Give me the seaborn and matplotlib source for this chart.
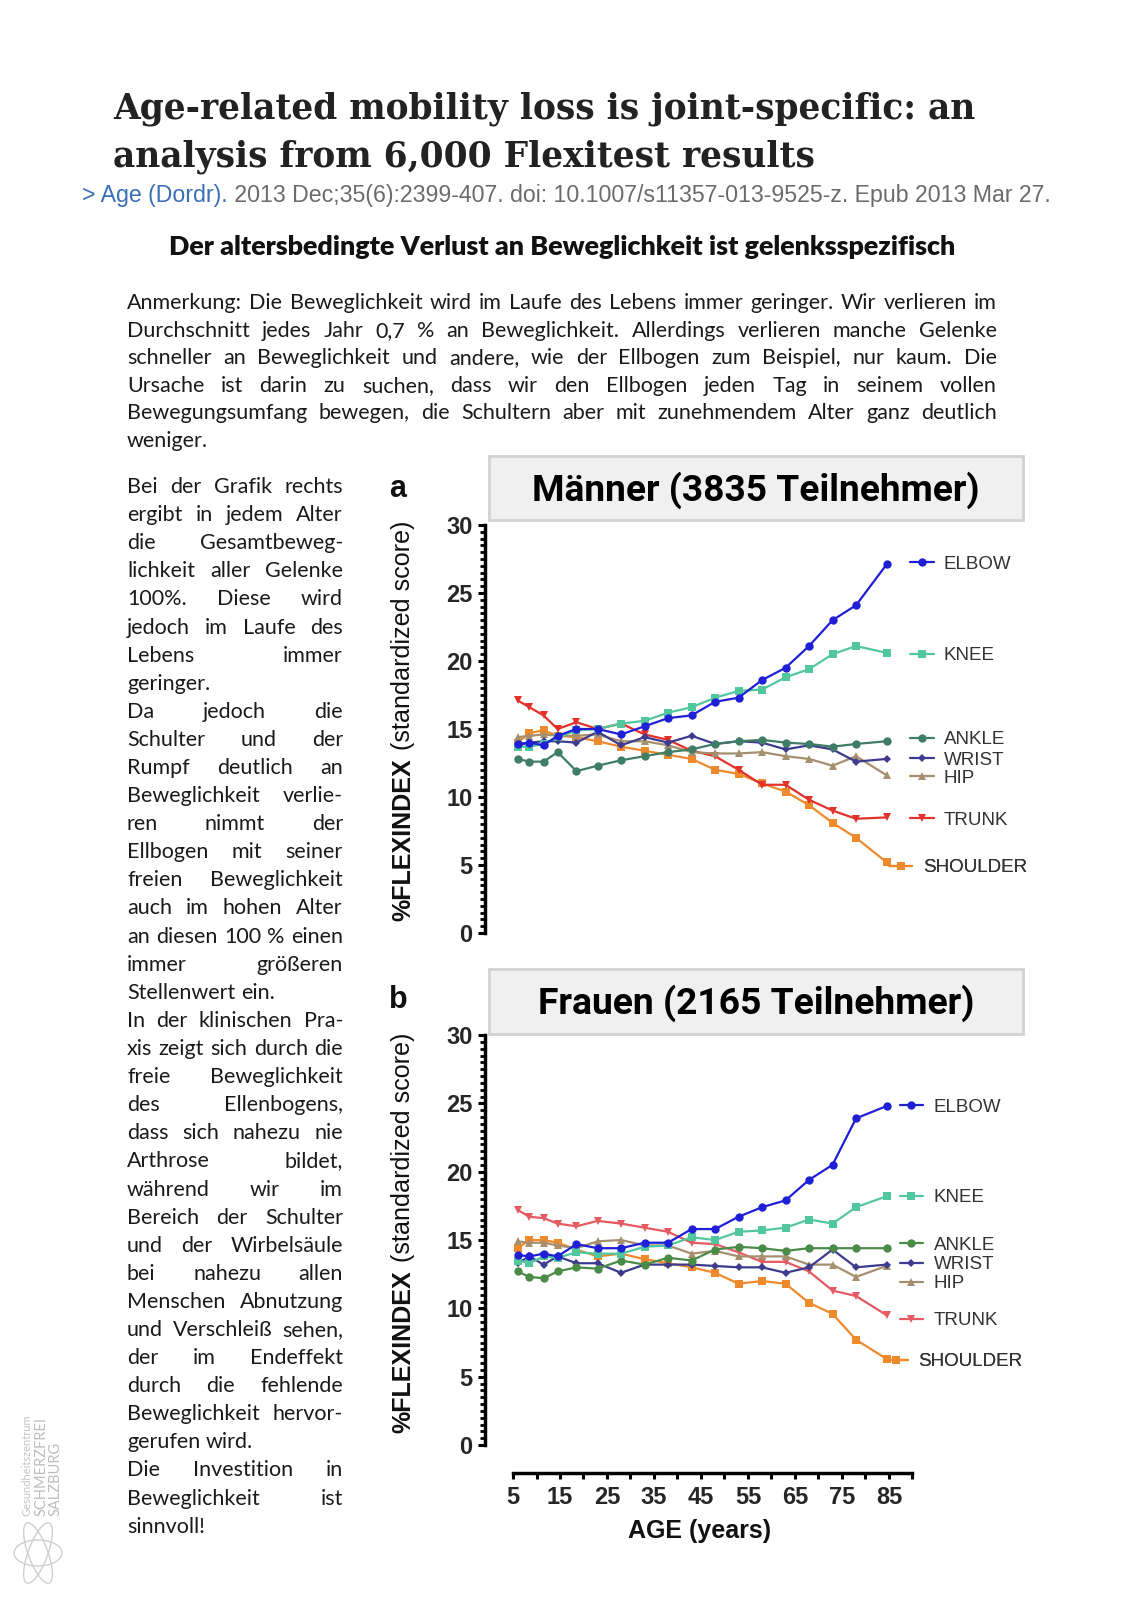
"""
Flexitest page: age-related mobility loss per joint, men (a) and women (b).
"""

import matplotlib
matplotlib.use('Agg')
import matplotlib.pyplot as plt
import numpy as np
import pandas as pd
import seaborn as sns
from matplotlib.lines import Line2D
from matplotlib.patches import Ellipse, Rectangle
from matplotlib.ticker import FixedLocator, MultipleLocator

W, H = 1124, 1597

# ---- data ---------------------------------------------------------------
AGES = [6, 8.5, 11.5, 14.5, 18.5, 23, 28, 33, 38, 43, 48, 53, 58, 63, 68, 73, 78, 84.5]
JOINTS = ['ELBOW', 'KNEE', 'ANKLE', 'WRIST', 'HIP', 'TRUNK', 'SHOULDER']

# panel a - men
ELBOW_M = [13.9, 14.0, 13.8, 14.5, 15.0, 15.0, 14.6, 15.2, 15.8, 16.0, 17.0, 17.3, 18.6, 19.5, 21.1, 23.0, 24.1, 27.1]
KNEE_M = [13.7, 13.7, 13.9, 14.4, 14.9, 15.0, 15.4, 15.6, 16.2, 16.6, 17.3, 17.8, 17.9, 18.8, 19.4, 20.5, 21.1, 20.6]
ANKLE_M = [12.8, 12.6, 12.6, 13.3, 11.9, 12.3, 12.7, 13.0, 13.3, 13.5, 13.9, 14.1, 14.2, 14.0, 13.9, 13.7, 13.9, 14.1]
WRIST_M = [13.8, 14.0, 14.1, 14.1, 14.0, 14.8, 13.8, 14.4, 14.0, 14.5, 13.9, 14.1, 14.0, 13.5, 13.8, 13.5, 12.6, 12.8]
HIP_M = [14.4, 14.5, 14.6, 14.5, 14.5, 14.6, 14.1, 14.1, 13.8, 13.3, 13.2, 13.2, 13.3, 13.0, 12.8, 12.3, 13.0, 11.6]
TRUNK_M = [17.1, 16.6, 16.0, 15.0, 15.5, 15.0, 15.4, 14.6, 14.2, 13.4, 13.0, 12.0, 10.9, 10.9, 9.8, 9.0, 8.4, 8.5]
SHOULDER_M = [14.0, 14.7, 14.9, 14.5, 14.4, 14.1, 13.7, 13.4, 13.1, 12.8, 12.0, 11.7, 11.0, 10.4, 9.4, 8.1, 7.0, 5.2]

# panel b - women
ELBOW_W = [13.9, 13.8, 14.0, 13.8, 14.7, 14.4, 14.4, 14.8, 14.8, 15.8, 15.8, 16.7, 17.4, 17.9, 19.4, 20.5, 23.9, 24.8]
KNEE_W = [13.5, 13.3, 13.8, 13.7, 14.1, 14.0, 14.0, 14.5, 14.6, 15.2, 15.0, 15.6, 15.7, 15.9, 16.5, 16.2, 17.4, 18.2]
ANKLE_W = [12.7, 12.3, 12.2, 12.7, 13.0, 12.9, 13.5, 13.2, 13.7, 13.5, 14.3, 14.5, 14.4, 14.2, 14.4, 14.4, 14.4, 14.4]
WRIST_W = [13.3, 13.8, 13.2, 13.8, 13.3, 13.3, 12.6, 13.2, 13.2, 13.2, 13.1, 13.0, 13.0, 12.6, 13.0, 14.3, 13.0, 13.2]
HIP_W = [14.9, 14.8, 14.8, 14.6, 14.4, 14.9, 15.0, 14.6, 14.6, 14.0, 14.2, 13.8, 13.8, 13.8, 13.2, 13.2, 12.3, 13.1]
TRUNK_W = [17.2, 16.7, 16.6, 16.2, 16.0, 16.4, 16.2, 15.9, 15.6, 14.8, 14.7, 14.1, 13.4, 13.4, 12.7, 11.3, 10.9, 9.5]
SHOULDER_W = [14.4, 15.0, 15.0, 14.8, 14.3, 13.8, 14.0, 13.6, 13.3, 13.0, 12.6, 11.8, 12.0, 11.8, 10.4, 9.6, 7.7, 6.3]

# where the joint names sit (y, in score units)
LABEL_Y_M = [27.1, 20.4, 14.2, 12.7, 11.4, 8.3, 4.8]
LABEL_Y_W = [24.7, 18.1, 14.6, 13.2, 11.8, 9.1, 6.1]

X_TICKS = [5, 15, 25, 35, 45, 55, 65, 75, 85]
X_MINOR = [10, 20, 30, 40, 50, 60, 70, 80, 90]
Y_TICKS = [0, 5, 10, 15, 20, 25, 30]

TITLE_LINES = ['Age-related mobility loss is joint-specific: an',
               'analysis from 6,000 Flexitest results']
CITE_BLUE = '> Age (Dordr).'
CITE_GREY = ' 2013 Dec;35(6):2399-407. doi: 10.1007/s11357-013-9525-z. Epub 2013 Mar 27.'
SUBTITLE = 'Der altersbedingte Verlust an Beweglichkeit ist gelenksspezifisch'
YLAB_BOLD = '%FLEXINDEX'
YLAB_REG = '(standardized score)'

NOTE_PARAS = [[
    'Anmerkung: Die Beweglichkeit wird im Laufe des Lebens immer geringer. Wir verlieren im',
    'Durchschnitt jedes Jahr 0,7 % an Beweglichkeit. Allerdings verlieren manche Gelenke',
    'schneller an Beweglichkeit und andere, wie der Ellbogen zum Beispiel, nur kaum. Die',
    'Ursache ist darin zu suchen, dass wir den Ellbogen jeden Tag in seinem vollen',
    'Bewegungsumfang bewegen, die Schultern aber mit zunehmendem Alter ganz deutlich',
    'weniger.',
]]

SIDE_PARAS = [
    ['Bei der Grafik rechts', 'ergibt in jedem Alter', 'die Gesamtbeweg-',
     'lichkeit aller Gelenke', '100%. Diese wird', 'jedoch im Laufe des',
     'Lebens immer', 'geringer.'],
    ['Da jedoch die', 'Schulter und der', 'Rumpf deutlich an',
     'Beweglichkeit verlie-', 'ren nimmt der', 'Ellbogen mit seiner',
     'freien Beweglichkeit', 'auch im hohen Alter', 'an diesen 100 % einen',
     'immer größeren', 'Stellenwert ein.'],
    ['In der klinischen Pra-', 'xis zeigt sich durch die', 'freie Beweglichkeit',
     'des Ellenbogens,', 'dass sich nahezu nie', 'Arthrose bildet,',
     'während wir im', 'Bereich der Schulter', 'und der Wirbelsäule',
     'bei nahezu allen', 'Menschen Abnutzung', 'und Verschleiß sehen,',
     'der im Endeffekt', 'durch die fehlende', 'Beweglichkeit hervor-',
     'gerufen wird.'],
    ['Die Investition in', 'Beweglichkeit ist', 'sinnvoll!'],
]

# ---- styles --------------------------------------------------------------
COLORS_M = {'ELBOW': '#1f1fd6', 'KNEE': '#52c79e', 'ANKLE': '#3f7d66', 'WRIST': '#3d3b8e',
            'HIP': '#a58f6f', 'TRUNK': '#e3322b', 'SHOULDER': '#ef8a2c'}
COLORS_W = dict(COLORS_M, ANKLE='#4b8b48', TRUNK='#e65a62')
MARKERS = {'ELBOW': 'o', 'KNEE': 's', 'ANKLE': 'o', 'WRIST': 'D', 'HIP': '^',
           'TRUNK': 'v', 'SHOULDER': 's'}
MSIZE = {'ELBOW': 6, 'KNEE': 5.5, 'ANKLE': 6, 'WRIST': 4.5, 'HIP': 5.5, 'TRUNK': 5.5, 'SHOULDER': 5.5}

BODY_FONT = ['Lato', 'DejaVu Sans']
AXIS_FONT = ['Liberation Sans', 'DejaVu Sans']
TEXT_COLOR = '#1a1a1a'

sns.set_theme(style='white')
plt.rcParams['font.family'] = AXIS_FONT

fig = plt.figure(figsize=(W / 100, H / 100), dpi=100)
fig.patch.set_facecolor('white')
R = fig.canvas.get_renderer()


def px(x, y):
    return x / W, 1 - y / H


def text_width(s, **kw):
    t = fig.text(0, 0, s, **kw)
    w = t.get_window_extent(renderer=R).width
    t.remove()
    return w


def fit_size(s, target, **kw):
    return 20 * target / text_width(s, fontsize=20, **kw)


def draw_block(paras, x0, x1, y0, step, size):
    space = text_width('a a', fontsize=size, family=BODY_FONT) - text_width('aa', fontsize=size, family=BODY_FONT)
    i = 0
    for para in paras:
        for j, line in enumerate(para):
            words = line.split(' ')
            widths = [text_width(w, fontsize=size, family=BODY_FONT) for w in words]
            last = j == len(para) - 1
            if last or len(words) == 1:
                gap = space
            else:
                gap = max((x1 - x0 - sum(widths)) / (len(words) - 1), 0.4 * space)
            x = x0
            for w, wd in zip(words, widths):
                fig.text(*px(x, y0 + i * step), w, fontsize=size, family=BODY_FONT,
                         color=TEXT_COLOR, ha='left', va='baseline')
                x += wd + gap
            i += 1


# ---- header --------------------------------------------------------------
title_size = fit_size(TITLE_LINES[0], 866, family='DejaVu Serif', fontweight='bold')
for line, base in zip(TITLE_LINES, [118, 167]):
    fig.text(*px(113, base), line, fontsize=title_size, family='DejaVu Serif',
             fontweight='bold', color='#222222', ha='left', va='baseline')

cite_size = fit_size(CITE_BLUE + CITE_GREY, 971, family=AXIS_FONT)
fig.text(*px(82, 202), CITE_BLUE, fontsize=cite_size, family=AXIS_FONT, color='#3a6fb5',
         ha='left', va='baseline')
fig.text(*px(82 + text_width(CITE_BLUE, fontsize=cite_size, family=AXIS_FONT), 202), CITE_GREY,
         fontsize=cite_size, family=AXIS_FONT, color='#6b6b6b', ha='left', va='baseline')

sub_size = fit_size(SUBTITLE, 791, family=BODY_FONT, fontweight='heavy')
fig.text(*px(562, 255), SUBTITLE, fontsize=sub_size, family=BODY_FONT, fontweight='heavy',
         color='#111111', ha='center', va='baseline')

body_size = fit_size(NOTE_PARAS[0][0], 850, family=BODY_FONT)
draw_block(NOTE_PARAS, 127, 997, 309, 27.6, body_size)
draw_block(SIDE_PARAS, 127, 343, 493, 28.1, body_size)


# ---- panels ----------------------------------------------------------------
def add_axes_px(left, top, right, bottom):
    return fig.add_axes([left / W, 1 - bottom / H, (right - left) / W, (bottom - top) / H])


def draw_panel(ax, series, colors, label_y, key_x, shoulder_key_x):
    for joint in reversed(JOINTS):
        sns.lineplot(x=AGES, y=series[joint], color=colors[joint], marker=MARKERS[joint],
                     markersize=MSIZE[joint], markeredgewidth=0, linewidth=1.6, ax=ax,
                     zorder=3, clip_on=False)
    for joint, y in zip(JOINTS, label_y):
        handle = Line2D([], [], color=colors[joint], marker=MARKERS[joint],
                        markersize=MSIZE[joint], markeredgewidth=0, linewidth=1.6)
        x = shoulder_key_x if joint == 'SHOULDER' else key_x
        leg = ax.legend(handles=[handle], labels=[joint], loc='center left',
                        bbox_to_anchor=(x, y), bbox_transform=ax.transData, frameon=False,
                        handlelength=1.25, handletextpad=0.55, borderpad=0,
                        borderaxespad=0, labelcolor='#333333', prop={'family': AXIS_FONT, 'size': 13.5})
        ax.add_artist(leg)

    ax.set_xlim(-0.96, 109.7)
    ax.set_ylim(0, 30)
    ax.set_facecolor('none')
    ax.grid(False)
    ax.spines[['top', 'right']].set_visible(False)
    ax.spines['left'].set_linewidth(2.5)
    ax.spines['left'].set_color('black')
    ax.set_yticks(Y_TICKS)
    ax.set_yticklabels([str(t) for t in Y_TICKS], fontweight='bold', fontsize=17)
    ax.yaxis.set_minor_locator(MultipleLocator(0.5))
    ax.tick_params(axis='y', which='major', left=True, length=5, width=2.2, pad=4, color='black')
    ax.tick_params(axis='y', which='minor', left=True, length=3.5, width=2, color='black')
    ax.set_xlabel('')
    ax.set_ylabel('')


# one size for both parts of the y label, so the whole thing spans about 400 px
bold_w20 = text_width(YLAB_BOLD, fontsize=20, fontweight='bold')
reg_w20 = text_width(YLAB_REG, fontsize=20)
ylab_size = 20 * 392 / (bold_w20 + reg_w20)
bold_len = bold_w20 * ylab_size / 20


def y_label(bottom):
    join = bottom - bold_len
    fig.text(*px(403, bottom), YLAB_BOLD, fontsize=ylab_size, fontweight='bold', rotation=90,
             rotation_mode='anchor', ha='left', va='center', color='#111111')
    fig.text(*px(403, join - 8), YLAB_REG, fontsize=ylab_size, rotation=90,
             rotation_mode='anchor', ha='left', va='center', color='#111111')


def title_box(top, bottom, label, width):
    fig.patches.append(Rectangle(px(489, bottom), 534 / W, (bottom - top) / H,
                                 transform=fig.transFigure, facecolor='#f0f0f0',
                                 edgecolor='#d2d2d2', linewidth=2))
    fig.text(*px(756, (top + bottom) / 2 + 2), label, family=['Roboto', 'DejaVu Sans'],
             fontweight='bold', fontsize=fit_size(label, width, family=['Roboto', 'DejaVu Sans'],
                                                   fontweight='bold'),
             ha='center', va='center', color='black')


series_m = dict(zip(JOINTS, [ELBOW_M, KNEE_M, ANKLE_M, WRIST_M, HIP_M, TRUNK_M, SHOULDER_M]))
series_w = dict(zip(JOINTS, [ELBOW_W, KNEE_W, ANKLE_W, WRIST_W, HIP_W, TRUNK_W, SHOULDER_W]))

ax_a = add_axes_px(485, 525, 1005, 933)
draw_panel(ax_a, series_m, COLORS_M, LABEL_Y_M, 89.5, 85.0)
ax_a.spines['bottom'].set_visible(False)
ax_a.tick_params(axis='x', which='both', bottom=False, labelbottom=False)

ax_b = add_axes_px(485, 1035, 1005, 1445)
draw_panel(ax_b, series_w, COLORS_W, LABEL_Y_W, 87.3, 84.0)
ax_b.spines['bottom'].set_position(('outward', 20))
ax_b.spines['bottom'].set_bounds(5, 90)
ax_b.spines['bottom'].set_linewidth(2.5)
ax_b.spines['bottom'].set_color('black')
ax_b.xaxis.set_major_locator(FixedLocator(X_TICKS))
ax_b.xaxis.set_minor_locator(FixedLocator(X_MINOR))
ax_b.set_xticklabels([str(t) for t in X_TICKS], fontweight='bold', fontsize=17)
ax_b.tick_params(axis='x', which='both', bottom=True, length=4.5, width=2.2, pad=5, color='black')
ax_b.set_xlabel('AGE (years)', fontweight='bold', fontsize=18, color='#111111')
ax_b.xaxis.set_label_coords((700 - 485) / 520, (1445 - 1519) / 410)

title_box(456, 520, 'Männer (3835 Teilnehmer)', 446)
title_box(969, 1034, 'Frauen (2165 Teilnehmer)', 436)
fig.text(*px(398, 489), 'a', fontsize=22, fontweight='bold', ha='center', va='center', color='#111111')
fig.text(*px(398, 1000), 'b', fontsize=22, fontweight='bold', ha='center', va='center', color='#111111')
y_label(921)
y_label(1433)

# ---- watermark logo, bottom left ----------------------------------------------
fig.text(*px(27, 1516), 'Gesundheitszentrum', fontsize=8, color='#c4c4c4', rotation=90,
         rotation_mode='anchor', ha='left', va='center', family=BODY_FONT)
fig.text(*px(42, 1516), 'SCHMERZFREI', fontsize=10.5, color='#bdbdbd', rotation=90,
         rotation_mode='anchor', ha='left', va='center', family=BODY_FONT)
fig.text(*px(56, 1516), 'SALZBURG', fontsize=10.5, color='#bdbdbd', rotation=90,
         rotation_mode='anchor', ha='left', va='center', family=BODY_FONT)
for ang in (0, 60, 120):
    fig.patches.append(Ellipse(px(38, 1553), 48 / W, 26 / H, angle=ang, transform=fig.transFigure,
                               facecolor='none', edgecolor='#cfcfcf', linewidth=1))

fig.savefig('out.png', dpi=100, facecolor='white')
